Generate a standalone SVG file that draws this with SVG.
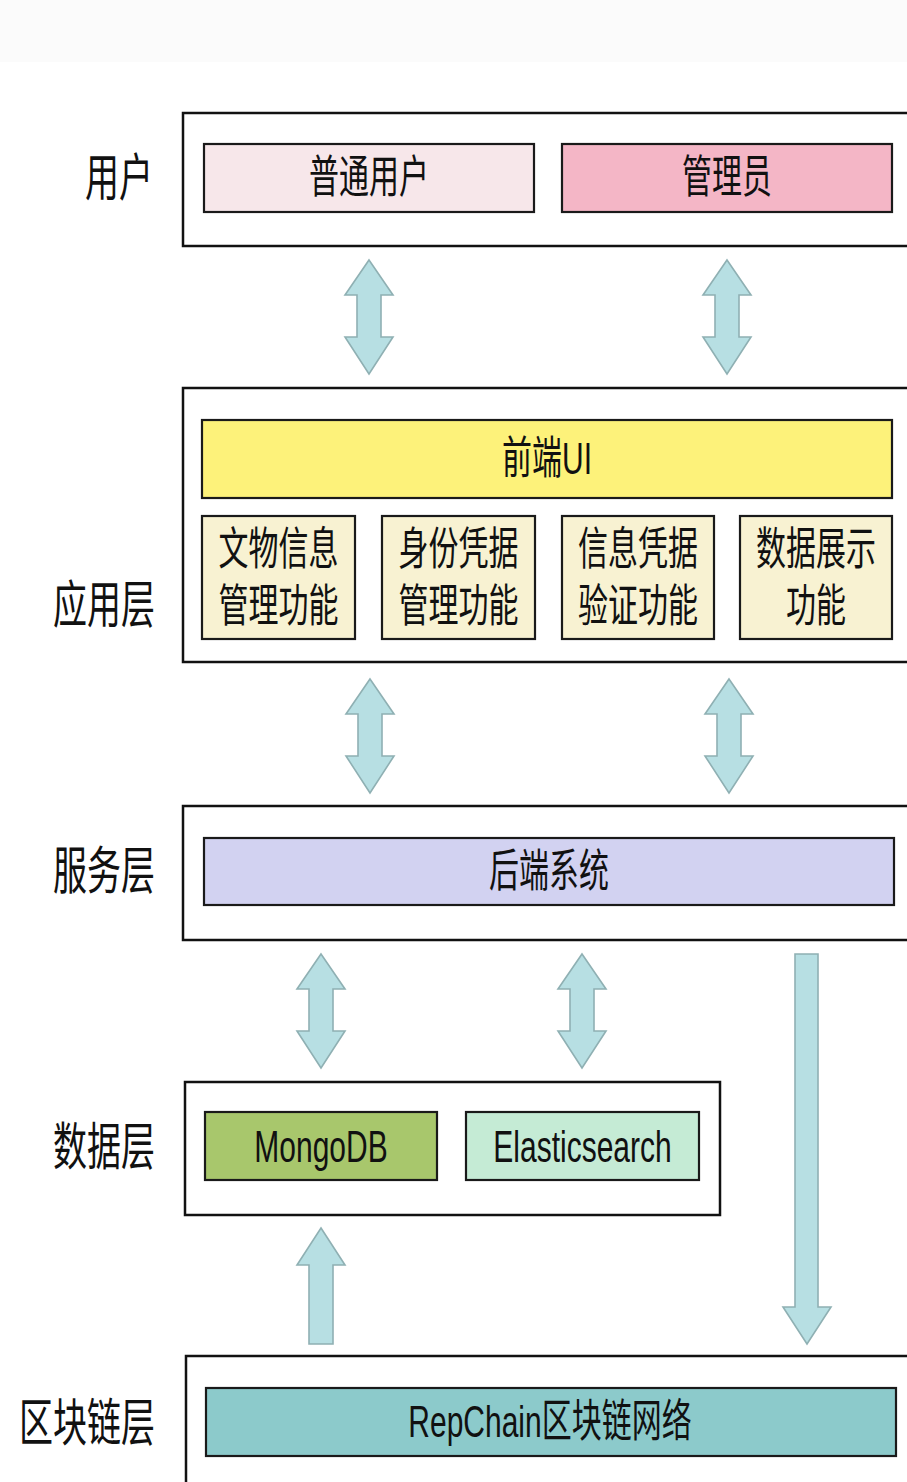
<svg xmlns="http://www.w3.org/2000/svg" xmlns:xlink="http://www.w3.org/1999/xlink" width="907" height="1482" viewBox="0 0 907 1482">
<style>
.outer{fill:#fff;stroke:#111;stroke-width:2.5}
.inner{stroke:#1a1a1a;stroke-width:2.2}
.arrow{fill:#b7dfe3;stroke:#8fb0b3;stroke-width:1.6;stroke-linejoin:miter}
.t{font-family:"Liberation Sans","Noto Sans CJK SC",sans-serif;font-size:30px;fill:#111;text-anchor:middle;dominant-baseline:central}
.lbl{font-family:"Liberation Sans","Noto Sans CJK SC",sans-serif;font-size:34px;fill:#111;text-anchor:end;dominant-baseline:central}
</style>
<defs>
<path id="dbl" d="M0,0 L24,35 L12,35 L12,77 L24,77 L0,114 L-24,77 L-12,77 L-12,35 L-24,35 Z"/>
</defs>
<rect width="907" height="1482" fill="#fff"/>
<rect width="907" height="62" fill="#fbfbfb"/>

<g id="layer-labels">
<text class="lbl" transform="matrix(1,0,0,1.5,153,178)">用户</text>
<text class="lbl" transform="matrix(1,0,0,1.5,155,605)">应用层</text>
<text class="lbl" transform="matrix(1,0,0,1.5,155,871)">服务层</text>
<text class="lbl" transform="matrix(1,0,0,1.5,155,1147)">数据层</text>
<text class="lbl" transform="matrix(1,0,0,1.5,155,1423)">区块链层</text>
</g>

<g id="user-layer">
<rect class="outer" x="183" y="113" width="740" height="133"/>
</g>
<g id="node-normal-user">
<rect class="inner" x="204" y="144" width="330" height="68" fill="#f7e7ea"/>
<text class="t" transform="matrix(1,0,0,1.5,369,177)">普通用户</text>
</g>
<g id="node-admin">
<rect class="inner" x="562" y="144" width="330" height="68" fill="#f4b6c6"/>
<text class="t" transform="matrix(1,0,0,1.5,727,177)">管理员</text>
</g>

<g id="app-layer">
<rect class="outer" x="183" y="388" width="740" height="274"/>
</g>
<g id="node-frontend">
<rect class="inner" x="202" y="420" width="690" height="78" fill="#fdf27a"/>
<text class="t" transform="matrix(1,0,0,1.5,547,458)">前端UI</text>
</g>
<g id="node-relic">
<rect class="inner" x="202" y="516" width="153" height="123" fill="#f8f2d2"/>
<text class="t" transform="matrix(1,0,0,1.5,278.5,549)">文物信息</text>
<text class="t" transform="matrix(1,0,0,1.5,278.5,606)">管理功能</text>
</g>
<g id="node-identity">
<rect class="inner" x="382" y="516" width="153" height="123" fill="#f8f2d2"/>
<text class="t" transform="matrix(1,0,0,1.5,458.5,549)">身份凭据</text>
<text class="t" transform="matrix(1,0,0,1.5,458.5,606)">管理功能</text>
</g>
<g id="node-verify">
<rect class="inner" x="562" y="516" width="152" height="123" fill="#f8f2d2"/>
<text class="t" transform="matrix(1,0,0,1.5,638,549)">信息凭据</text>
<text class="t" transform="matrix(1,0,0,1.5,638,606)">验证功能</text>
</g>
<g id="node-display">
<rect class="inner" x="740" y="516" width="152" height="123" fill="#f8f2d2"/>
<text class="t" transform="matrix(1,0,0,1.5,816,549)">数据展示</text>
<text class="t" transform="matrix(1,0,0,1.5,816,606)">功能</text>
</g>

<g id="service-layer">
<rect class="outer" x="183" y="806" width="740" height="134"/>
</g>
<g id="node-backend">
<rect class="inner" x="204" y="838" width="690" height="67" fill="#d2d2f1"/>
<text class="t" transform="matrix(1,0,0,1.5,549,871)">后端系统</text>
</g>

<g id="data-layer">
<rect class="outer" x="185" y="1082" width="535" height="133"/>
</g>
<g id="node-mongodb">
<rect class="inner" x="205" y="1112" width="232" height="68" fill="#a8c76c"/>
<text class="t" transform="matrix(1,0,0,1.5,321,1146)">MongoDB</text>
</g>
<g id="node-es">
<rect class="inner" x="466" y="1112" width="233" height="68" fill="#c5ebd5"/>
<text class="t" transform="matrix(1,0,0,1.5,582.5,1146)">Elasticsearch</text>
</g>

<g id="chain-layer">
<rect class="outer" x="186" y="1356" width="740" height="140"/>
</g>
<g id="node-repchain">
<rect class="inner" x="206" y="1388" width="690" height="68" fill="#8ccacb"/>
<text class="t" transform="matrix(1,0,0,1.5,550,1421)">RepChain区块链网络</text>
</g>

<g id="connectors">
<use xlink:href="#dbl" href="#dbl" class="arrow" transform="translate(369,260)"/>
<use xlink:href="#dbl" href="#dbl" class="arrow" transform="translate(727,260)"/>
<use xlink:href="#dbl" href="#dbl" class="arrow" transform="translate(370,679)"/>
<use xlink:href="#dbl" href="#dbl" class="arrow" transform="translate(729,679)"/>
<use xlink:href="#dbl" href="#dbl" class="arrow" transform="translate(321,954)"/>
<use xlink:href="#dbl" href="#dbl" class="arrow" transform="translate(582,954)"/>
<path class="arrow" d="M321,1228 L345,1265 L333,1265 L333,1344 L309,1344 L309,1265 L297,1265 Z"/>
<path class="arrow" d="M795,954 L818,954 L818,1307 L831,1307 L807,1344 L783,1307 L795,1307 Z"/>
</g>
</svg>
